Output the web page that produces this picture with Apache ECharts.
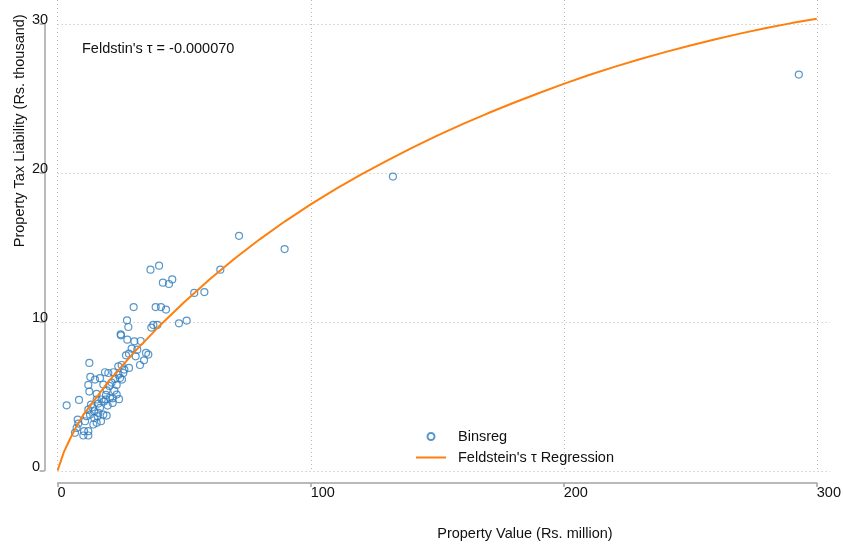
<!DOCTYPE html>
<html>
  <head>
    <meta charset="utf-8" />
    <title>Feldstein tax function</title>
    <script src="https://cdn.jsdelivr.net/npm/echarts@6.0.0/dist/echarts.min.js"></script>
  </head>
  <body style="margin: 0; padding: 0; border: 0">
    <div id="main" style="width: 844px; height: 546px"></div>
    <script type="text/javascript">
      var xTicks = [0, 100, 200, 300];
      var yTicks = [0, 10, 20, 30];

      // binned scatter (property value, tax liability)
      var binX = [
        30.05, 38.75, 40.85, 42.83, 27.42, 27.95, 37.03, 37.82, 39.4, 47.97,
        51.0, 24.92, 25.05, 27.55, 30.32, 32.82, 29.26, 31.5, 34.93, 35.85,
        27.02, 28.21, 30.85, 34.14, 32.56, 12.54, 23.99, 25.31, 26.37, 28.21,
        18.73, 20.04, 22.02, 23.99, 25.97, 22.68, 24.65, 25.44, 21.36, 12.93,
        16.75, 14.78, 12.14, 12.54, 18.07, 20.44, 23.34, 19.39, 22.41, 15.44,
        8.46, 19.12, 17.41, 18.99, 20.7, 21.76, 24.26, 3.58, 13.2, 13.72,
        16.09, 18.33, 19.78, 21.76, 12.14, 14.51, 16.09, 15.83, 14.51, 18.07,
        19.39, 17.15, 15.44, 7.93, 8.19, 10.83, 7.53, 6.87, 10.43, 12.14,
        10.17, 12.14, 14.12, 12.8, 11.48, 16.75, 23.34, 15.44,
        36.7, 40.1, 41.6, 44.0, 45.3, 54.0, 58.0, 64.3, 71.7, 89.7, 132.5, 292.9
      ];
      var binY = [
        10.98, 10.98, 10.98, 10.81, 10.09, 9.64, 9.6, 9.78, 9.78, 9.89,
        10.07, 9.15, 9.08, 8.79, 8.68, 8.7, 8.19, 8.12, 7.9, 7.79,
        7.74, 7.85, 7.67, 7.4, 7.09, 7.23, 7.0, 7.09, 6.78, 6.89,
        6.6, 6.55, 6.6, 6.42, 6.55, 6.15, 6.22, 6.11, 5.91, 6.29,
        6.2, 6.11, 5.75, 5.3, 5.77, 5.68, 5.75, 5.39, 5.37, 5.15,
        4.74, 5.08, 4.77, 4.77, 4.88, 4.85, 4.79, 4.38, 4.43, 4.25,
        4.5, 4.63, 4.36, 4.54, 4.09, 3.98, 3.87, 3.65, 3.53, 3.76,
        3.69, 3.31, 3.2, 3.42, 3.15, 3.31, 2.86, 2.53, 2.64, 2.64,
        2.35, 2.35, 3.09, 3.76, 3.65, 4.21, 5.1, 4.77,
        13.49, 13.76, 12.62, 12.53, 12.84, 11.93, 11.99, 13.49, 15.77, 14.88, 19.75, 26.6
      ];

      // fitted curve
      var fitX = [0, 2.5, 5, 7.5, 10, 20, 30, 40, 50, 60, 70, 80, 90, 100,
        110, 120, 130, 140, 150, 160, 170, 180, 190, 200,
        210, 220, 230, 240, 250, 260, 270, 280, 290, 300];
      var fitY = [0, 1.25, 2.15, 2.97, 3.7, 5.95, 7.9, 9.67, 11.31, 12.83, 14.24, 15.55, 16.76, 17.88,
        18.92, 19.89, 20.81, 21.68, 22.5, 23.27, 24.0, 24.69, 25.35, 25.98,
        26.57, 27.12, 27.63, 28.11, 28.56, 28.98, 29.37, 29.73, 30.06, 30.36];

      var font = "'Liberation Sans', Arial, Helvetica, sans-serif";
      var fs = 14.5;
      var axisGray = "#a3a3a3";
      var gridGray = "#b8b8b8";
      var ink = "#111";

      var binData = binX.map(function (x, i) { return [x, binY[i]]; });
      var fitData = fitX.map(function (x, i) { return [x, fitY[i]]; });

      var dotted = { type: [1, 3], color: gridGray, width: 1 };

      var myChart = echarts.init(document.getElementById("main"));
      myChart.setOption({
        animation: false,
        textStyle: { fontFamily: font },
        grid: [
          { left: 57.6, top: 24, width: 759.4, height: 447 },
          { left: 57.6, top: 0, width: 772.4, height: 471 }
        ],
        xAxis: [
          {
            gridIndex: 0,
            type: "value",
            min: xTicks[0],
            max: xTicks[xTicks.length - 1],
            interval: 100,
            offset: 12.5,
            axisLine: { show: true, onZero: false, lineStyle: { color: axisGray, width: 1.5 } },
            axisTick: { show: true, length: 4, lineStyle: { color: axisGray, width: 1.5 } },
            axisLabel: { align: "left", margin: 2, color: ink, fontSize: fs },
            splitLine: { show: false },
            name: "Property Value (Rs. million)",
            nameLocation: "middle",
            nameGap: 43,
            nameMoveOverlap: false,
            nameTextStyle: { align: "left", fontSize: fs, color: ink }
          },
          {
            gridIndex: 1,
            type: "value",
            min: 0,
            max: 305.1,
            interval: 100,
            axisLine: { show: false },
            axisTick: { show: false },
            axisLabel: { show: false },
            splitLine: { show: true, showMaxLine: false, lineStyle: dotted }
          }
        ],
        yAxis: [
          {
            gridIndex: 0,
            type: "value",
            min: yTicks[0],
            max: yTicks[yTicks.length - 1],
            interval: 10,
            offset: 13,
            axisLine: { show: true, onZero: false, lineStyle: { color: axisGray, width: 1.5 } },
            axisTick: { show: true, length: 5, lineStyle: { color: axisGray, width: 1.5 } },
            axisLabel: {
              align: "left",
              verticalAlign: "bottom",
              lineHeight: 8,
              margin: 12.6,
              color: ink,
              fontSize: fs
            },
            splitLine: { show: false },
            name: "Property Tax Liability (Rs. thousand)",
            nameLocation: "middle",
            nameGap: 17,
            nameRotate: 90,
            nameMoveOverlap: false,
            nameTextStyle: { align: "left", fontSize: fs, color: ink }
          },
          {
            gridIndex: 1,
            type: "value",
            min: 0,
            max: 31.61,
            interval: 10,
            axisLine: { show: false },
            axisTick: { show: false },
            axisLabel: { show: false },
            splitLine: { show: true, showMaxLine: false, lineStyle: dotted }
          }
        ],
        legend: {
          orient: "vertical",
          left: 411,
          top: 424,
          itemWidth: 30,
          itemHeight: 7,
          itemGap: 6,
          textStyle: { fontSize: fs, color: ink, padding: [0, 0, 0, 7] },
          data: [
            { name: "Binsreg", icon: "circle" },
            { name: "Feldstein's τ Regression", icon: "path://M0,0 L30,0 L30,2 L0,2 Z" }
          ]
        },
        graphic: [
          {
            type: "text",
            left: 82,
            top: 41,
            style: { text: "Feldstin's τ = -0.000070", fontSize: fs, fill: ink, fontFamily: font }
          }
        ],
        series: [
          {
            name: "Binsreg",
            type: "scatter",
            xAxisIndex: 0,
            yAxisIndex: 0,
            symbol: "circle",
            symbolSize: 7,
            clip: false,
            itemStyle: { color: "rgba(255,255,255,0)", borderColor: "#2f7dbd", borderWidth: 1.2 },
            data: binData
          },
          {
            name: "Feldstein's τ Regression",
            type: "line",
            xAxisIndex: 0,
            yAxisIndex: 0,
            symbol: "none",
            smooth: false,
            clip: false,
            lineStyle: { color: "#ff7f0e", width: 2 },
            itemStyle: { color: "#ff7f0e" },
            data: fitData
          }
        ]
      });
    </script>
  </body>
</html>
